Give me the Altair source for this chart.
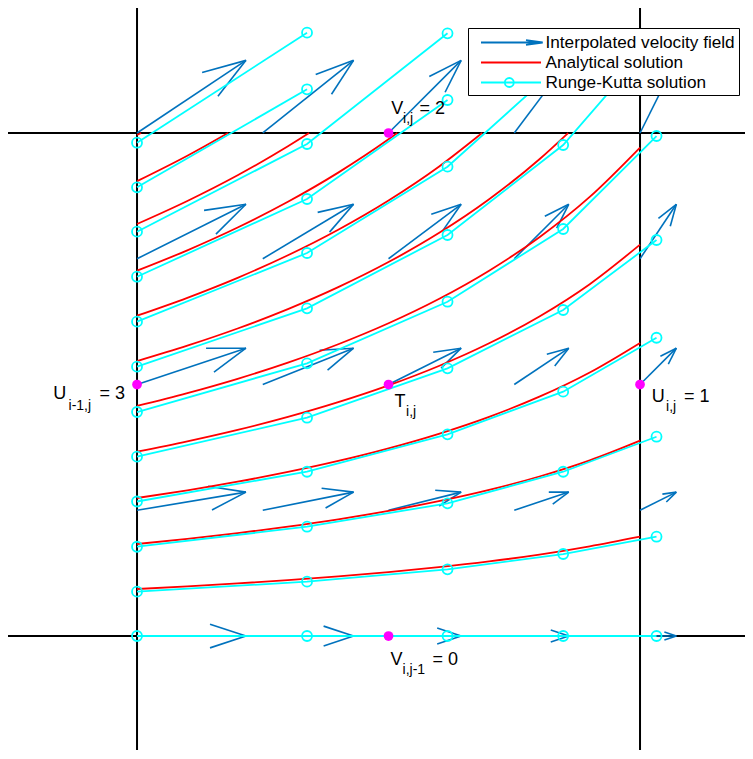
import altair as alt
import pandas as pd
import numpy as np

# ---------------- data ----------------
# axis limits (cell is [0,1] x [0,1]); plot area 737 x 742 px
XLIM = [-0.2565, 1.2087]
YLIM = [-0.2266, 1.2485]

# cell edges
cell_x = [0, 1]
cell_y = [0, 1]

# node values of the staggered grid
U_left, U_right = 3, 1      # U_{i-1,j}, U_{i,j}
V_bottom, V_top = 0, 2      # V_{i,j-1}, V_{i,j}

# quiver: arrow positions and interpolated velocities
q_x = [0, 0.25, 0.5, 0.75, 1.0]
q_y = [0, 0.25, 0.5, 0.75, 1.0]
q_u = [3.0, 2.5, 2.0, 1.5, 1.0]     # u at each q_x
q_v = [0.0, 0.5, 1.0, 1.5, 2.0]     # v at each q_y
Q_SCALE = 0.0722

# Runge-Kutta solution points (x is shared by every streamline)
rk_x = [0, 0.338, 0.6173, 0.8472, 1.0328]
rk_y = [
    [0.0, 0.0, 0.0, 0.0, 0.0],
    [0.0881, 0.1080, 0.1326, 0.1630, 0.1974],
    [0.1775, 0.2173, 0.2638, 0.3266, 0.3962],
    [0.2674, 0.3266, 0.4010, 0.4857, 0.5930],
    [0.3565, 0.4340, 0.5322, 0.6481, 0.7873],
    [0.4453, 0.5421, 0.6646, 0.8092, 0.9940],
    [0.5354, 0.6515, 0.7972, 0.9761, 1.1900],
    [0.6249, 0.7614, 0.9330, 1.1400],
    [0.7143, 0.8688, 1.0656],
    [0.8038, 0.9781, 1.1982],
    [0.8920, 1.0869],
    [0.9807, 1.1994],
]

# Analytical solution curves (inside the cell)
ana_x_std = [0, 0.1, 0.2, 0.3, 0.4, 0.5, 0.6, 0.7, 0.8, 0.9, 1.0]
ana = [
    ([0, 1.0], [0.0, 0.0]),
    (ana_x_std, [0.0934, 0.0986, 0.1045, 0.1110, 0.1185, 0.1270, 0.1368, 0.1483, 0.1619, 0.1783, 0.1975]),
    (ana_x_std, [0.1829, 0.1931, 0.2045, 0.2174, 0.2320, 0.2487, 0.2680, 0.2905, 0.3171, 0.3492, 0.3884]),
    (ana_x_std, [0.2744, 0.2897, 0.3069, 0.3262, 0.3481, 0.3731, 0.4020, 0.4358, 0.4758, 0.5239, 0.5827]),
    (ana_x_std, [0.3664, 0.3869, 0.4097, 0.4355, 0.4648, 0.4982, 0.5368, 0.5819, 0.6353, 0.6995, 0.7781]),
    (ana_x_std, [0.4573, 0.4829, 0.5114, 0.5436, 0.5801, 0.6218, 0.6700, 0.7263, 0.7929, 0.8730, 0.9711]),
    ([0, 0.1, 0.2, 0.3, 0.4, 0.5, 0.6, 0.7, 0.8, 0.857],
     [0.5467, 0.5773, 0.6114, 0.6499, 0.6935, 0.7434, 0.8010, 0.8683, 0.9479, 1.0]),
    ([0, 0.1, 0.2, 0.3, 0.4, 0.5, 0.6, 0.686],
     [0.6368, 0.6724, 0.7121, 0.7570, 0.8078, 0.8659, 0.9330, 1.0]),
    ([0, 0.1, 0.2, 0.3, 0.4, 0.5, 0.5175],
     [0.7262, 0.7668, 0.8121, 0.8632, 0.9212, 0.9874, 1.0]),
    ([0, 0.1, 0.2, 0.3, 0.342], [0.8191, 0.8649, 0.9160, 0.9737, 1.0]),
    ([0, 0.1, 0.181], [0.9042, 0.9548, 1.0]),
    ([0, 0.008], [0.996, 1.0]),
]

# labelled nodes
nodes = [
    ("U", "i-1,j", f"= {U_left}", 0.0, 0.5),
    ("U", "i,j", f"= {U_right}", 1.0, 0.5),
    ("V", "i,j", f"= {V_top}", 0.5, 1.0),
    ("V", "i,j-1", f"= {V_bottom}", 0.5, 0.0),
    ("T", "i,j", "", 0.5, 0.5),
]
# label offsets (px): main dx,dy ; sub dx,dy ; suffix dx,dy
label_offsets = [
    ((-83.7, 14), (-68.5, 25), (-37.5, 14)),
    ((11.7, 17), (26.0, 26), (44.0, 17)),
    ((2.7, -18.5), (14.5, -9.5), (31.0, -18.5)),
    ((2.0, 29), (14.0, 38), (44.0, 29)),
    ((6.0, 22), (17.5, 31.5), (0, 0)),
]

series = ["Interpolated velocity field", "Analytical solution", "Runge-Kutta solution"]
series_colors = ["#0072BD", "#FF0000", "#00FFFF"]

FONT = "Liberation Sans"

# ---------------- build tables ----------------
xs = alt.Scale(domain=XLIM, nice=False, zero=False)
ys = alt.Scale(domain=YLIM, nice=False, zero=False)

arrow_rows = []
A = B = 0.33
for xi, ui in zip(q_x, q_u):
    for yi, vi in zip(q_y, q_v):
        du, dv = Q_SCALE * ui, Q_SCALE * vi
        tx, ty = xi + du, yi + dv
        arrow_rows.append(dict(x=xi, y=yi, x2=tx, y2=ty))
        arrow_rows.append(dict(x=tx - A * (du + B * dv), y=ty - A * (dv - B * du), x2=tx, y2=ty))
        arrow_rows.append(dict(x=tx - A * (du - B * dv), y=ty - A * (dv + B * du), x2=tx, y2=ty))
arrow_df = pd.DataFrame(arrow_rows)

rk_rows = []
for k, ys_k in enumerate(rk_y):
    for j, yv in enumerate(ys_k):
        rk_rows.append(dict(id=k, x=rk_x[j], y=yv))
rk_df = pd.DataFrame(rk_rows)

ana_rows = []
for k, (xx, yy) in enumerate(ana):
    for a, b in zip(xx, yy):
        ana_rows.append(dict(id=k, x=a, y=b))
ana_df = pd.DataFrame(ana_rows)

node_df = pd.DataFrame([dict(x=n[3], y=n[4]) for n in nodes])

# ---------------- layers ----------------
def XY(**kw):
    return dict(x=alt.X("x:Q", scale=xs, axis=None), y=alt.Y("y:Q", scale=ys, axis=None), **kw)

vlines = alt.Chart(pd.DataFrame({"x": cell_x})).mark_rule(color="black", strokeWidth=2).encode(
    x=alt.X("x:Q", scale=xs, axis=None))
hlines = alt.Chart(pd.DataFrame({"y": cell_y})).mark_rule(color="black", strokeWidth=2).encode(
    y=alt.Y("y:Q", scale=ys, axis=None))

arrows = alt.Chart(arrow_df).mark_rule(color=series_colors[0], strokeWidth=1.6).encode(
    **XY(x2="x2:Q", y2="y2:Q"))

red = alt.Chart(ana_df).mark_line(color=series_colors[1], strokeWidth=1.8, interpolate="monotone").encode(
    **XY(detail="id:N"))

cyan = alt.Chart(rk_df).mark_line(color=series_colors[2], strokeWidth=1.8, clip=True).encode(
    **XY(detail="id:N"))
cyan_pts = alt.Chart(rk_df).mark_point(shape="circle", filled=False, size=100, strokeWidth=1.8,
                                       color=series_colors[2], opacity=1, clip=True).encode(**XY())

magenta = alt.Chart(node_df).mark_point(shape="circle", filled=True, size=95, color="#FF00FF",
                                        opacity=1).encode(**XY())

text_layers = []
for n, offs in zip(nodes, label_offsets):
    main, sub, suf, nx, ny = n
    df = pd.DataFrame([dict(x=nx, y=ny, main=main, sub=sub, suf=suf)])
    pieces = [("main", 18, offs[0]), ("sub", 14, offs[1])]
    if suf:
        pieces.append(("suf", 18, offs[2]))
    for field, size, (dx, dy) in pieces:
        text_layers.append(
            alt.Chart(df).mark_text(align="left", baseline="alphabetic", dx=dx, dy=dy, fontSize=size,
                                    font=FONT, color="black").encode(**XY(text=f"{field}:N"))
        )

# legend (built by the library from a colour/shape scale)
paths = [
    "M-0.15,0L6.02,0M4.35,-0.23L6.02,0L4.35,0.23",
    "M-0.15,0L5.85,0",
    "M-0.15,0L5.85,0M2.23,0A0.45,0.45,0,1,0,3.13,0A0.45,0.45,0,1,0,2.23,0",
]
leg = alt.Legend(title=None, orient="none", legendX=460, legendY=20, fillColor="white",
                 strokeColor="black", padding=3.5, cornerRadius=0, symbolSize=400,
                 symbolStrokeWidth=1.8, labelFont=FONT, labelFontSize=17.2, labelColor="black",
                 labelOffset=52, rowPadding=0, labelLimit=500)
leg_df = pd.DataFrame({"series": series, "x": [np.nan] * 3, "y": [np.nan] * 3})
legend_layer = alt.Chart(leg_df).mark_point(filled=False, opacity=1).encode(
    **XY(color=alt.Color("series:N", scale=alt.Scale(domain=series, range=series_colors), legend=leg),
         shape=alt.Shape("series:N", scale=alt.Scale(domain=series, range=paths), legend=leg)))

chart = alt.layer(vlines, hlines, arrows, red, cyan, cyan_pts, magenta, *text_layers, legend_layer).properties(
    width=737, height=742, padding=0, autosize=alt.AutoSizeParams(type="none"), background="white"
).configure_view(strokeWidth=0)

chart.save("out.html", embed_options={"renderer": "svg", "actions": False})
